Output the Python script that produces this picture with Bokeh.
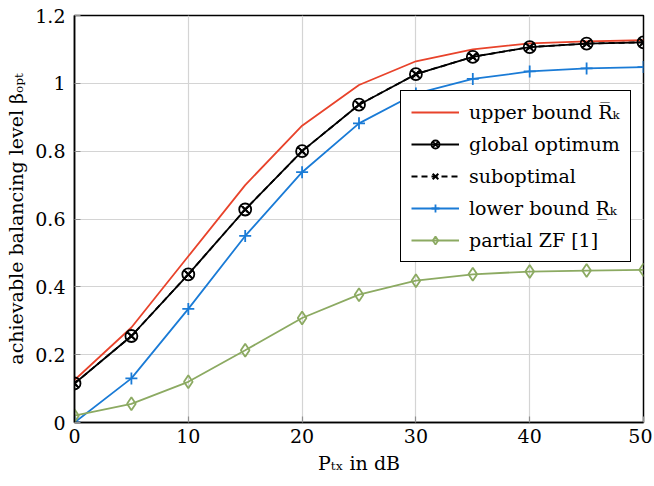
from bokeh.plotting import figure
from bokeh.models import FixedTicker, CustomJSTickFormatter, Range1d, Legend
from bokeh.embed import file_html
from bokeh.resources import INLINE

# ---- data ----
p_tx = [0, 5, 10, 15, 20, 25, 30, 35, 40, 45, 50]
upper_bound = [0.125, 0.28, 0.49, 0.70, 0.875, 0.995, 1.065, 1.10, 1.118, 1.124, 1.127]
global_opt = [0.115, 0.255, 0.437, 0.628, 0.80, 0.937, 1.027, 1.078, 1.107, 1.117, 1.121]
suboptimal = [0.115, 0.255, 0.437, 0.628, 0.80, 0.937, 1.027, 1.078, 1.107, 1.117, 1.121]
lower_bound = [0.0, 0.13, 0.335, 0.55, 0.738, 0.882, 0.970, 1.013, 1.035, 1.044, 1.048]
partial_zf = [0.02, 0.055, 0.12, 0.213, 0.308, 0.377, 0.418, 0.437, 0.445, 0.448, 0.450]

x_ticks = [0, 10, 20, 30, 40, 50]
y_ticks = [0, 0.2, 0.4, 0.6, 0.8, 1.0, 1.2]

labels = ["upper bound R\u0305\u2096", "global optimum", "suboptimal",
          "lower bound R\u0332\u2096", "partial ZF [1]"]

FONT = "DejaVu Serif"
RED = "#e8432b"
BLUE = "#1a7bd6"
GREEN = "#8caa62"

p = figure(width=652, height=484, output_backend="svg", toolbar_location=None,
           x_range=Range1d(0, 50), y_range=Range1d(0, 1.2),
           min_border_left=74, min_border_right=9, min_border_top=15, min_border_bottom=62)

p.outline_line_color = "black"
p.outline_line_width = 1.5
p.outline_line_alpha = 1

for ax in (p.xaxis[0], p.yaxis[0]):
    ax.axis_line_color = "black"
    ax.axis_line_width = 1.5
    ax.major_tick_in = 6
    ax.major_tick_out = 0
    ax.major_tick_line_color = "#909090"
    ax.major_tick_line_width = 1.2
    ax.minor_tick_line_color = None
    ax.major_label_text_font = FONT
    ax.major_label_text_font_size = "19px"
    ax.major_label_text_color = "black"
    ax.axis_label_text_font = FONT
    ax.axis_label_text_font_size = "19px"
    ax.axis_label_text_font_style = "normal"
    ax.axis_label_text_color = "black"

p.xaxis.ticker = FixedTicker(ticks=x_ticks)
p.yaxis.ticker = FixedTicker(ticks=y_ticks)
p.yaxis.formatter = CustomJSTickFormatter(code="return tick.toFixed(1).replace(/\\.0$/, '');")
p.xaxis.major_label_standoff = 6
p.yaxis.major_label_standoff = 9
p.xaxis.axis_label = "P\u209c\u2093 in dB"
p.yaxis.axis_label = "achievable balancing level \u03b2\u2092\u209a\u209c"
p.xaxis.axis_label_standoff = 6
p.yaxis.axis_label_standoff = 5

p.grid.grid_line_color = "#d4d4d4"
p.grid.grid_line_width = 1.2
p.xgrid.ticker = FixedTicker(ticks=x_ticks)
p.ygrid.ticker = FixedTicker(ticks=y_ticks)

items = []
r1 = p.line(p_tx, upper_bound, line_color=RED, line_width=1.8)
items.append((labels[0], [r1]))

r2 = p.line(p_tx, global_opt, line_color="black", line_width=1.8)
r2m = p.scatter(p_tx, global_opt, marker="circle_x", size=12, fill_color=None,
                line_color="black", line_width=1.8)
items.append((labels[1], [r2, r2m]))

r3 = p.line(p_tx, suboptimal, line_color="black", line_width=1.8, line_dash="6 4")
r3m = p.scatter(p_tx, suboptimal, marker="x", size=8, line_color="black", line_width=2)
items.append((labels[2], [r3, r3m]))

r4 = p.line(p_tx, lower_bound, line_color=BLUE, line_width=1.8)
r4m = p.scatter(p_tx, lower_bound, marker="cross", size=12, line_color=BLUE, line_width=1.8)
items.append((labels[3], [r4, r4m]))

r5 = p.line(p_tx, partial_zf, line_color=GREEN, line_width=1.8)
r5m = p.scatter(p_tx, partial_zf, marker="diamond", size=13, fill_color=None,
                line_color=GREEN, line_width=1.8)
items.append((labels[4], [r5, r5m]))

legend = Legend(items=items, location=(326, 160))
legend.label_text_font = FONT
legend.label_text_font_size = "19px"
legend.label_text_color = "black"
legend.border_line_color = "black"
legend.border_line_width = 1.5
legend.border_line_alpha = 1
legend.background_fill_alpha = 1
legend.glyph_width = 48
legend.glyph_height = 20
legend.label_standoff = 10
legend.spacing = 10
legend.padding = 10
legend.margin = 0
p.add_layout(legend, "center")

open("out.html", "w").write(file_html(p, INLINE))
